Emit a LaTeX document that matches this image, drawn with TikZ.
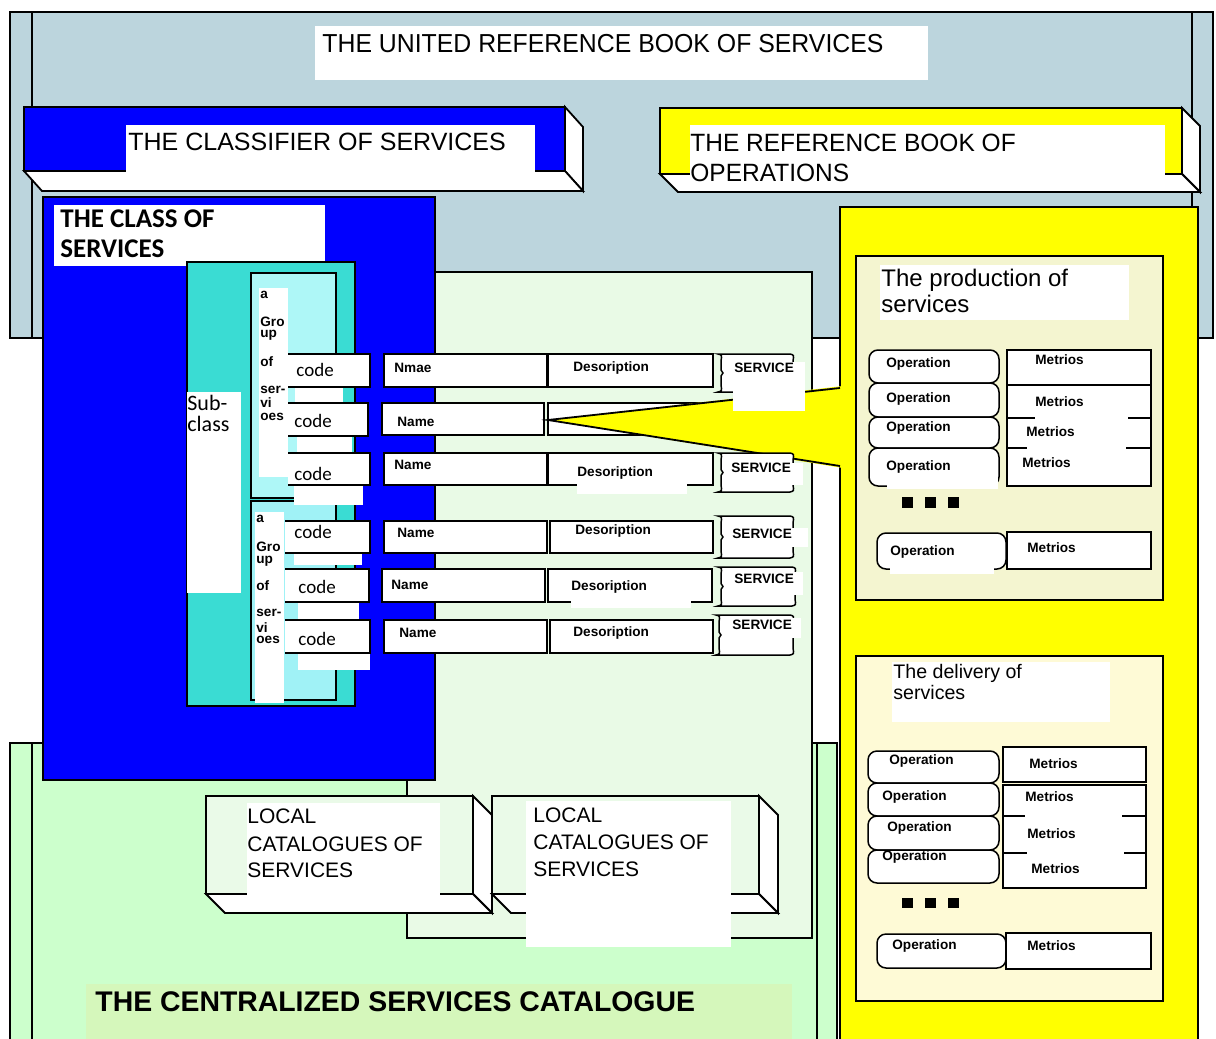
\documentclass[tikz,border=0pt]{standalone}
\usepackage{fontspec}
\usepackage{graphicx}
\setmainfont{Liberation Sans}
\newfontfamily\carl{Carlito}
\definecolor{panelgray}{HTML}{BCD5DD}
\definecolor{pureblue}{HTML}{0000FF}
\definecolor{pureyellow}{HTML}{FFFF00}
\definecolor{catgreen}{HTML}{CCFFCC}
\definecolor{bandgreen}{HTML}{D5F7BB}
\definecolor{svcgreen}{HTML}{E9FAE6}
\definecolor{localgreen}{HTML}{EAFAE8}
\definecolor{turq}{HTML}{3ADCD3}
\definecolor{lcyan}{HTML}{AEF7F7}
\definecolor{lcyanb}{HTML}{A0F2F6}
\definecolor{prodcream}{HTML}{F4F5D0}
\definecolor{delcream}{HTML}{FEFAD6}

\tikzset{
  ln/.style={draw=black, line width=0.9pt},
  thn/.style={draw=black, line width=0.75pt},
  opbox/.style={draw=black, line width=0.75pt, fill=white, rounded corners=4.5pt},
  titletxt/.style={inner sep=0pt, anchor=base west, font=\fontsize{12.5}{14}\selectfont},
  lab/.style={inner sep=0pt, anchor=west, font=\fontsize{6.8}{8}\selectfont\bfseries},
  codetxt/.style={inner sep=0pt, anchor=base west, font=\carl\fontsize{9.5}{11}\selectfont},
  localtxt/.style={inner sep=0pt, anchor=base west, font=\fontsize{10.5}{12}\selectfont},
  sectitle/.style={inner sep=0pt, anchor=base west},
  dotsq/.style={fill=black},
}

% front face with a right and a bottom face, projected down-right
\newcommand{\boxthreed}[7]{%
  \draw[ln, fill=#7] (#1,#2) rectangle (#3,#4);
  \draw[ln, fill=white] (#3,#2) -- ({#3+#5},{#2+#6}) -- ({#3+#5},{#4+#6}) -- (#3,#4) -- cycle;
  \draw[ln, fill=white] (#1,#4) -- (#3,#4) -- ({#3+#5},{#4+#6}) -- ({#1+#5},{#4+#6}) -- cycle;
}

% card-like tag with brace-shaped ends
\newcommand{\svctag}[4]{%
  \pgfmathsetmacro{\tagmid}{(#2+#4)/2}
  \draw[thn, fill=white] (#1,#2) -- (#3,#2)
    .. controls ({#3+4},{#2+1}) .. ({#3+3},{#2+7}) -- ({#3+3},{\tagmid-3}) -- ({#3+5},\tagmid)
    -- ({#3+3},{\tagmid+3}) -- ({#3+3},{#4-7}) .. controls ({#3+4},{#4-1}) .. (#3,#4)
    -- (#1,#4) .. controls ({#1+4},{#4-1}) .. ({#1+3},{#4-7}) -- ({#1+3},{\tagmid+3})
    -- ({#1+5},\tagmid) -- ({#1+3},{\tagmid-3}) -- ({#1+3},{#2+7})
    .. controls ({#1+4},{#2+1}) .. (#1,#2) -- cycle;
}

\begin{document}
\begin{tikzpicture}[x=0.5pt, y=-0.5pt]
\useasboundingbox (0,0) rectangle (1216,1039);
\clip (0,0) rectangle (1216,1039);

% ---------- the united reference book ----------
\draw[ln, fill=panelgray] (10,12) rectangle (1213,338);
\draw[ln] (32,12) -- (32,338) (1192,12) -- (1192,338);
\fill[white] (315,26) rectangle (928,80);
\node[titletxt, font=\fontsize{13}{15}\selectfont] (united) at (322,52)
  {\scalebox{0.955}[1]{THE UNITED REFERENCE BOOK OF SERVICES}};

% classifier of services
\boxthreed{24}{107}{565}{171}{18}{20}{pureblue}
\fill[white] (126,125) rectangle (535,172.6);
\node[titletxt] (classifier) at (128,150) {THE CLASSIFIER OF SERVICES};

% reference book of operations
\boxthreed{660}{108}{1182}{174}{18}{18}{pureyellow}
\fill[white] (690,125) rectangle (1165,175.8);
\node[titletxt] (refbook1) at (690,151) {\scalebox{0.98}[1]{THE REFERENCE BOOK OF}};
\node[titletxt] (refbook2) at (690,181) {\scalebox{0.98}[1]{OPERATIONS}};

% ---------- centralized catalogue ----------
\draw[ln, fill=catgreen] (10,743) rectangle (837,1050);
\draw[ln] (32,743) -- (32,1050) (817,743) -- (817,1050);
\fill[bandgreen] (86,984) rectangle (792,1050);
\node[titletxt, font=\fontsize{14.2}{16}\selectfont\bfseries] (central) at (95,1011)
  {THE CENTRALIZED SERVICES CATALOGUE};

% services area
\draw[ln, fill=svcgreen] (407,272) rectangle (812,938);

% local catalogues
\boxthreed{206}{796}{473}{894}{19}{19}{localgreen}
\fill[white] (247,803) rectangle (440,895);
\node[localtxt] (locA1) at (247,823.5) {LOCAL};
\node[localtxt] (locA2) at (247,851) {CATALOGUES OF};
\node[localtxt] (locA3) at (247,877.5) {SERVICES};
\boxthreed{492}{796}{759}{894}{19}{19}{localgreen}
\fill[white] (526,801) rectangle (731,947);
\node[localtxt] (locB1) at (533,822) {LOCAL};
\node[localtxt] (locB2) at (533,849) {CATALOGUES OF};
\node[localtxt] (locB3) at (533,876) {SERVICES};

% ---------- class of services ----------
\draw[ln, fill=pureblue] (43,197) rectangle (435,780);
\fill[white] (54,205) rectangle (325,266);
\node[sectitle, font=\carl\fontsize{13.5}{15}\selectfont\bfseries] (class1) at (60,227) {THE CLASS OF};
\node[sectitle, font=\carl\fontsize{13.5}{15}\selectfont\bfseries] (class2) at (60,257) {SERVICES};

\draw[ln, fill=turq] (187,262) rectangle (355,706);
\draw[ln, fill=lcyan] (251,273) rectangle (336,498);
\draw[ln, fill=lcyanb] (251,501) rectangle (336,700);

\fill[white] (187,392) rectangle (241,593);
\node[sectitle, font=\carl\fontsize{11}{12}\selectfont] (sub1) at (187,410) {Sub-};
\node[sectitle, font=\carl\fontsize{11}{12}\selectfont] (sub2) at (187,431) {class};

\fill[white] (259,288) rectangle (288,477);
\fill[white] (255,512) rectangle (284,703);
\foreach \t/\yy [count=\k] in {a/295, Gro/322, up/335, of/362, ser-/390, vi/403, oes/417}
  \node[lab] (grpA\k) at (260,\yy) {\t};
\foreach \t/\yy [count=\k] in {a/519, Gro/547, up/561, of/586, ser-/613, vi/628, oes/640}
  \node[lab] (grpB\k) at (256,\yy) {\t};

% code cells
\draw[ln, fill=white] (288,354) -- (370,354) -- (370,387) -- (288,387);
\draw[ln, fill=white] (288,403) -- (368,403) -- (368,436) -- (288,436);
\draw[ln, fill=white] (288,453) -- (370,453) -- (370,485) -- (288,485);
\draw[ln, fill=white] (285,521) -- (370,521) -- (370,553) -- (285,553);
\draw[ln, fill=white] (285,569) -- (369,569) -- (369,602) -- (285,602);
\draw[ln, fill=white] (285,620) -- (370,620) -- (370,653) -- (285,653);
\fill[white] (295,388) rectangle (343,402);
\fill[white] (297,437) rectangle (352,452);
\fill[white] (294,486) rectangle (363,505);
\fill[white] (294,554) rectangle (362,565);
\fill[white] (298,603) rectangle (359,619);
\fill[white] (298,654) rectangle (370,670);
\node[codetxt] (code1) at (296,376) {code};
\node[codetxt] (code2) at (294,427) {code};
\node[codetxt] (code3) at (294,480) {code};
\node[codetxt] (code4) at (294,538) {code};
\node[codetxt] (code5) at (298,593) {code};
\node[codetxt] (code6) at (298,645) {code};

% name and description cells
\draw[ln, fill=white] (384,354) rectangle (547,387);
\draw[ln, fill=white] (548,354) rectangle (713,387);
\draw[ln, fill=white] (382,403) rectangle (544,435);
\draw[ln, fill=white] (548,403) rectangle (713,435);
\draw[ln, fill=white] (384,453) rectangle (547,485);
\draw[ln, fill=white] (548,453) rectangle (713,485);
\draw[ln, fill=white] (384,521) rectangle (547,553);
\draw[ln, fill=white] (550,521) rectangle (713,553);
\draw[ln, fill=white] (382,569) rectangle (545,602);
\draw[ln, fill=white] (548,569) rectangle (712,602);
\draw[ln, fill=white] (384,620) rectangle (547,653);
\draw[ln, fill=white] (550,620) rectangle (713,653);
\fill[white] (577,464) rectangle (687,494);
\fill[white] (571,580) rectangle (691,608);

\node[lab] (name1) at (394,368) {Nmae};
\node[lab] (name2) at (397,422) {Name};
\node[lab] (name3) at (394,465) {Name};
\node[lab] (name4) at (397,533) {Name};
\node[lab] (name5) at (391,585) {Name};
\node[lab] (name6) at (399,633) {Name};
\node[lab] (desc1) at (573,368) {Desoription};
\node[lab] (desc3) at (577,473) {Desoription};
\node[lab] (desc4) at (575,531) {Desoription};
\node[lab] (desc5) at (571,587) {Desoription};
\node[lab] (desc6) at (573,633) {Desoription};

% ---------- reference book of operations, detail ----------
\draw[ln, fill=pureyellow] (840,207) rectangle (1198,1050);

% callout from the chosen service into the operations
\fill[pureyellow] (548,420) -- (843,386) -- (843,468) -- cycle;
\draw[ln] (840,388) -- (548,420) -- (840,466);

% service tags
\svctag{718}{354}{790}{392}
\svctag{718}{453}{790}{492}
\svctag{718}{516}{790}{558}
\svctag{718}{567}{792}{606}
\svctag{716}{615}{790}{655}
\fill[white] (733,362) rectangle (805,411);
\fill[white] (729,463) rectangle (803,485);
\fill[white] (731,528) rectangle (808,547);
\fill[white] (734,572) rectangle (803,595);
\fill[white] (733,618) rectangle (801,638);
\node[lab] (svc1) at (734,368) {SERVICE};
\node[lab] (svc3) at (731,468) {SERVICE};
\node[lab] (svc4) at (732,534) {SERVICE};
\node[lab] (svc5) at (734,579) {SERVICE};
\node[lab] (svc6) at (732,625) {SERVICE};

% production of services
\draw[ln, fill=prodcream] (856,256) rectangle (1163,600);
\fill[white] (880,265) rectangle (1129,320);
\node[sectitle, font=\fontsize{12}{14}\selectfont] (prod1) at (881,286) {The production of};
\node[sectitle, font=\fontsize{12}{14}\selectfont] (prod2) at (881,312) {services};

\draw[opbox] (869,350) rectangle (999,383);
\draw[opbox] (869,383) rectangle (999,417);
\draw[opbox] (869,417) rectangle (999,448);
\draw[opbox] (869,448) rectangle (999,486);
\fill[white] (887,478) rectangle (998,489);
\draw[opbox] (877,533) rectangle (1006,569);
\fill[white] (890,562) rectangle (994,574);

\draw[thn, fill=white] (1007,350) rectangle (1151,385);
\draw[thn, fill=white] (1007,385) rectangle (1151,486);
\draw[thn] (1007,418) -- (1035,418) (1128,418) -- (1151,418);
\draw[thn] (1007,448) -- (1027,448) (1126,448) -- (1151,448);
\draw[thn, fill=white] (1007,532) rectangle (1151,569);

\foreach \xx/\yy [count=\k] in {886/364, 886/399, 886/428, 886/467, 890/552}
  \node[lab] (prodop\k) at (\xx,\yy) {Operation};
\foreach \xx/\yy [count=\k] in {1035/360, 1035/402, 1026/432, 1022/463, 1027/548}
  \node[lab] (prodmt\k) at (\xx,\yy) {Metrios};
\foreach \xx [count=\k] in {902, 925, 948}
  \fill[dotsq] (\xx,497) rectangle ({\xx+11},508);

% delivery of services
\draw[ln, fill=delcream] (856,656) rectangle (1163,1001);
\fill[white] (892,662) rectangle (1110,722);
\node[sectitle, font=\fontsize{9.8}{11}\selectfont] (deli1) at (893,678) {The delivery of};
\node[sectitle, font=\fontsize{9.8}{11}\selectfont] (deli2) at (893,699) {services};

\draw[opbox] (868,751) rectangle (999,783);
\draw[opbox] (868,783) rectangle (999,816);
\draw[opbox] (868,816) rectangle (999,850);
\draw[opbox] (868,850) rectangle (999,883);
\draw[opbox] (877,934) rectangle (1006,968);

\draw[thn, fill=white] (1003,747) rectangle (1146,782);
\draw[thn, fill=white] (1003,785) rectangle (1146,888);
\draw[thn] (1003,816) -- (1025,816) (1122,816) -- (1146,816);
\draw[thn] (1003,853) -- (1027,853) (1124,853) -- (1146,853);
\draw[thn, fill=white] (1006,933) rectangle (1151,969);

\foreach \xx/\yy [count=\k] in {889/761, 882/797, 887/828, 882/857, 892/946}
  \node[lab] (delop\k) at (\xx,\yy) {Operation};
\foreach \xx/\yy [count=\k] in {1029/764, 1025/797, 1027/834, 1031/869, 1027/946}
  \node[lab] (delmt\k) at (\xx,\yy) {Metrios};
\foreach \xx [count=\k] in {902, 925, 948}
  \fill[dotsq] (\xx,898) rectangle ({\xx+11},908);

\end{tikzpicture}
\end{document}
